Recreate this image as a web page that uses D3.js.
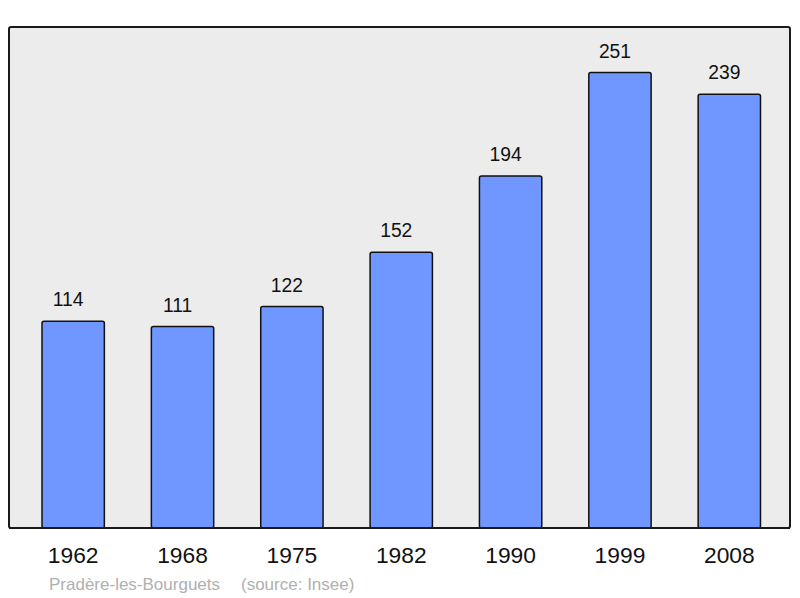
<!DOCTYPE html>
<html>
<head>
<meta charset="utf-8">
<script src="https://cdn.jsdelivr.net/npm/d3@7"></script>
<style>
  body { margin: 0; background: #fff; }
</style>
</head>
<body>
<div id="container"></div>
<script>
let years = ['1962', '1968', '1975', '1982', '1990', '1999', '2008'];
let population = [114, 111, 122, 152, 194, 251, 239];
let town = 'Pradère-les-Bourguets';
let source = '(source: Insee)';

let w = 800,
    h = 598;

let viz = d3.select('#container')
    .append('svg')
      .attr('width', w)
      .attr('height', h)
      .style('display', 'block')
      .style('font-family', '"Liberation Sans", Arial, sans-serif');

let x = d3.scaleBand()
    .domain(years)
    .range([18.5, 784])
    .paddingInner(0.43)
    .paddingOuter(0.215);

let y = d3.scaleLinear()
    .domain([0, d3.max(population) * 1.1])
    .range([528, 27]);

// frame
viz.append('rect')
    .attr('x', 9)
    .attr('y', 27)
    .attr('width', 781)
    .attr('height', 501)
    .attr('rx', 2)
    .attr('fill', '#ececec')
    .attr('stroke', '#1a1a1a')
    .attr('stroke-width', 2);

let bars = viz.append('g');

bars.selectAll('rect')
    .data(population)
    .join('rect')
      .attr('x', (d, i) => x(years[i]))
      .attr('y', d => y(d))
      .attr('width', x.bandwidth())
      .attr('height', d => y(0) - y(d))
      .attr('rx', 2)
      .attr('fill', '#7097ff')
      .attr('stroke', '#111')
      .attr('stroke-width', 1.5);

bars.selectAll('text')
    .data(population)
    .join('text')
      .attr('x', (d, i) => x(years[i]) + x.bandwidth() / 2 - 5)
      .attr('y', d => y(d) - 15)
      .attr('text-anchor', 'middle')
      .attr('font-size', 19.3)
      .attr('fill', '#111')
      .text(d => d);

// redraw baseline over bar bottoms
viz.append('line')
    .attr('x1', 9).attr('x2', 790)
    .attr('y1', 528).attr('y2', 528)
    .attr('stroke', '#1a1a1a')
    .attr('stroke-width', 2);

let axis = viz.append('g')
    .attr('transform', 'translate(0,528)')
    .call(d3.axisBottom(x).tickSize(0).tickPadding(19));

axis.select('.domain').remove();
axis.selectAll('text')
    .attr('font-size', 22.8)
    .attr('font-family', '"Liberation Sans", Arial, sans-serif')
    .attr('fill', '#111');

viz.append('text')
    .attr('x', 49)
    .attr('y', 590)
    .attr('font-size', 17)
    .attr('fill', '#b0b0b0')
    .text(town);

viz.append('text')
    .attr('x', 241)
    .attr('y', 590)
    .attr('font-size', 17)
    .attr('fill', '#b0b0b0')
    .text(source);
</script>
</body>
</html>
